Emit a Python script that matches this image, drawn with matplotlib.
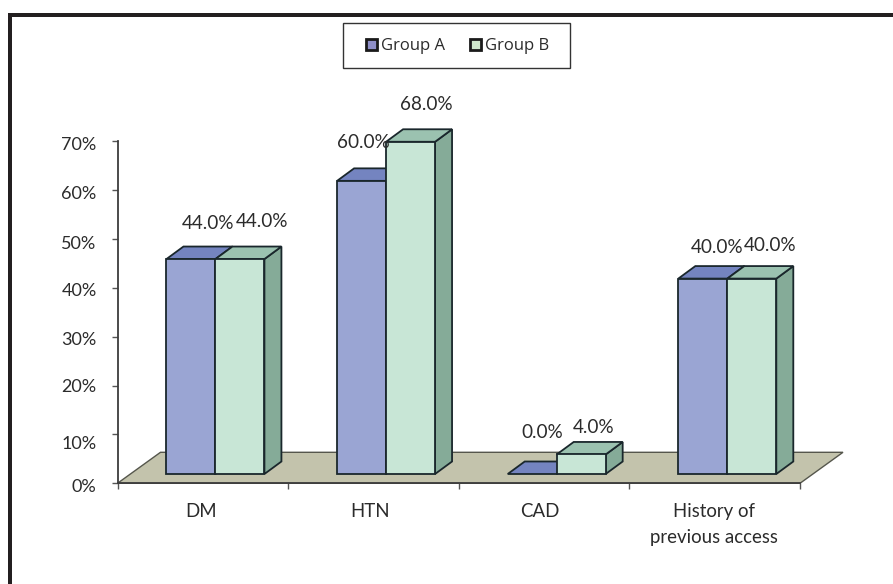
import matplotlib
matplotlib.use("Agg")
import matplotlib.pyplot as plt
from matplotlib.patches import Polygon, Patch, Rectangle
from matplotlib.transforms import ScaledTranslation

plt.rcParams['font.family'] = ['Lato', 'DejaVu Sans']

categories = ["DM", "HTN", "CAD", "History of\nprevious access"]
group_a = [44.0, 60.0, 0.0, 40.0]
group_b = [44.0, 68.0, 4.0, 40.0]
y_ticks = [0, 10, 20, 30, 40, 50, 60, 70]

# value label offsets from the bar's top front edge, in pixels
offsets_a = [(17, 36), (2, 38), (10, 42), (14, 31)]
offsets_b = [(22, 38), (16, 37), (12, 27), (18, 33)]
# small per-label shifts, in pixels
y_label_drop = [2, 8, 0, 2, 2, 3, 2, 2]
cat_label_shift = [-1.5, -3.5, -4, -1]

W, H = 893, 584
PX_X = 170.7   # pixels per category
PX_Y = 4.886   # pixels per percent

TEXT = '#2b2b2b'
EDGE = '#1a272c'
A_FRONT, A_TOP = '#9aa5d3', '#7484c0'
B_FRONT, B_TOP, B_SIDE = '#c8e6d6', '#9bc2b0', '#85ab98'
A_SIDE = '#5f6fa8'
FLOOR = '#c3c3ac'

fig = plt.figure(figsize=(W / 100, H / 100), dpi=100)
ax = fig.add_axes([117.5 / W, 1 - 483.3 / H, 682.5 / W, 342 / H])
ax.set_xlim(0, 4)
ax.set_ylim(0, 70)

# outer frame: left and top rules only
fig.add_artist(Rectangle((8 / W, 0), 4 / W, 1 - 13 / H, transform=fig.transFigure, color='#231f20', lw=0))
fig.add_artist(Rectangle((8 / W, 1 - 17 / H), 1 - 8 / W, 4 / H, transform=fig.transFigure, color='#231f20', lw=0))

# floor of the 3d box
fd_x, fd_y = 43 / PX_X, 31 / PX_Y
ax.add_patch(Polygon([(0, 0), (4, 0), (4 + fd_x, fd_y), (fd_x, fd_y)], closed=True,
                     facecolor=FLOOR, edgecolor='#55564c', lw=1, clip_on=False, zorder=1))

base = 9.3 / PX_Y       # bars stand a little in from the front of the floor
bar_w = 49 / PX_X
dx, dy = 17 / PX_X, 12.5 / PX_Y


def draw_bar(x, value, front, top, side, z):
    y0, y1 = base, base + value
    x1 = x + bar_w
    ax.add_patch(Polygon([(x1, y0), (x1 + dx, y0 + dy), (x1 + dx, y1 + dy), (x1, y1)], closed=True,
                         facecolor=side, edgecolor=EDGE, lw=1.3, clip_on=False, zorder=z))
    ax.add_patch(Polygon([(x, y1), (x1, y1), (x1 + dx, y1 + dy), (x + dx, y1 + dy)], closed=True,
                         facecolor=top, edgecolor=EDGE, lw=1.3, clip_on=False, zorder=z))
    if value > 0:
        ax.add_patch(Rectangle((x, y0), bar_w, value, facecolor=front, edgecolor=EDGE, lw=1.3,
                               clip_on=False, zorder=z))


for i in range(len(categories)):
    xa = i + 49 / PX_X
    xb = xa + bar_w
    draw_bar(xa, group_a[i], A_FRONT, A_TOP, A_SIDE, 2 + i)
    draw_bar(xb, group_b[i], B_FRONT, B_TOP, B_SIDE, 2 + i)
    ax.annotate(f"{group_a[i]:.1f}%", (xa + bar_w / 2, base + group_a[i]),
                xytext=(offsets_a[i][0] * 0.72, offsets_a[i][1] * 0.72), textcoords='offset points',
                ha='center', va='center', fontsize=13.6, color=TEXT, zorder=10)
    ax.annotate(f"{group_b[i]:.1f}%", (xb + bar_w / 2, base + group_b[i]),
                xytext=(offsets_b[i][0] * 0.72, offsets_b[i][1] * 0.72), textcoords='offset points',
                ha='center', va='center', fontsize=13.6, color=TEXT, zorder=10)

ax.spines['top'].set_visible(False)
ax.spines['right'].set_visible(False)
for s in ['left', 'bottom']:
    ax.spines[s].set_color('#3d3d3d')
    ax.spines[s].set_linewidth(1.3)
    ax.spines[s].set_zorder(9)
ax.patch.set_alpha(0)

ax.set_yticks(y_ticks)
ax.set_yticklabels([f"{v}%" for v in y_ticks], fontsize=13, color=TEXT)
ax.set_xticks(range(len(categories) + 1))
ax.set_xticklabels([""] * (len(categories) + 1))
ax.tick_params(axis='y', length=4, width=1, color='#555555', pad=11)
ax.tick_params(axis='x', length=4, width=1, color='#555555')

for lab, drop in zip(ax.get_yticklabels(), y_label_drop):
    lab.set_transform(lab.get_transform() + ScaledTranslation(0, -drop / 100, fig.dpi_scale_trans))

# category names sit between the ticks, slightly left of centre
for i, name in enumerate(categories):
    ax.annotate(name, (i + 0.5, 0), xytext=(cat_label_shift[i] * 0.72, -14.5), textcoords='offset points',
                ha='center', va='top', fontsize=13.4, color=TEXT, linespacing=1.6)

handles = [Patch(facecolor='#8f8fc8', edgecolor='#1a1a1a', lw=2),
           Patch(facecolor='#cfe8cc', edgecolor='#1a1a1a', lw=2)]
leg = fig.legend(handles, ["Group A", "Group B"], ncol=2, loc='center',
                 bbox_to_anchor=(458 / W, 1 - 46.5 / H), fontsize=12, frameon=False,
                 handlelength=0.65, handleheight=0.65, handletextpad=0.25, columnspacing=1.5,
                 borderpad=0, borderaxespad=0)
for t in leg.get_texts():
    t.set_color(TEXT)
    t.set_family(['Open Sans', 'DejaVu Sans'])

# legend box
fig.add_artist(Rectangle((343 / W, 1 - 68 / H), 227 / W, 45 / H, transform=fig.transFigure,
                         facecolor='none', edgecolor='#333333', lw=1))

fig.savefig("out.png", dpi=100)
